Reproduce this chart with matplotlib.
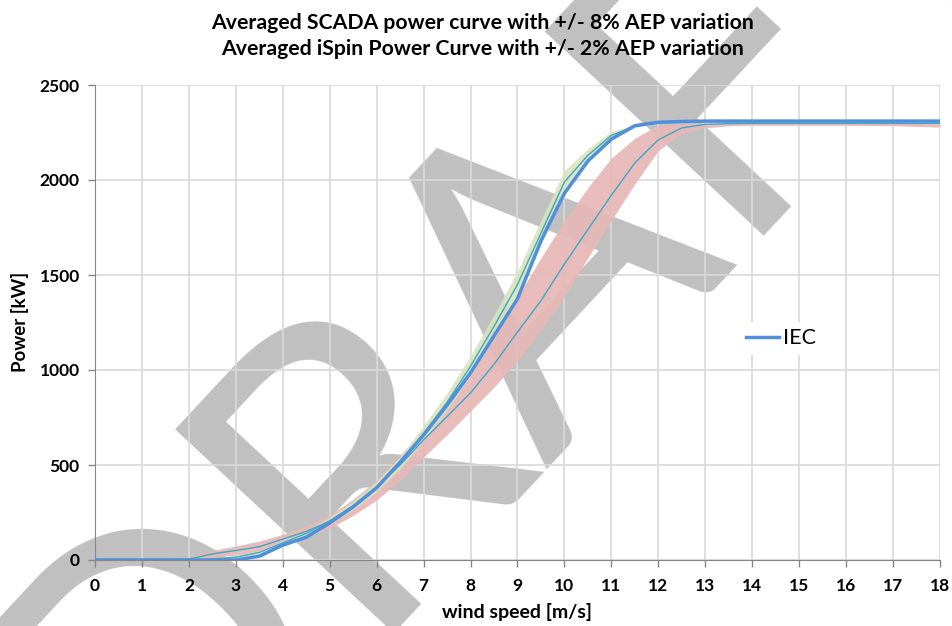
import matplotlib.pyplot as plt

plt.rcParams['font.family'] = ['Lato', 'DejaVu Sans']

wind = [0, 0.5, 1, 1.5, 2, 2.5, 3, 3.5, 4, 4.5, 5, 5.5, 6, 6.5, 7, 7.5, 8, 8.5, 9,
        9.5, 10, 10.5, 11, 11.5, 12, 12.5, 13, 13.5, 14, 15, 16, 17, 18]

# SCADA averaged curve and its +/- 8% AEP band
scada_avg = [0, 0, 0, 0, 5, 32, 50, 70, 110, 150, 205, 285, 384, 500, 632, 755, 880, 1030, 1200,
             1365, 1558, 1740, 1920, 2090, 2212, 2274, 2293, 2297, 2298, 2298, 2298, 2298, 2298]
scada_hi = [0, 0, 0, 0, 15, 50, 74, 100, 135, 180, 237, 320, 421, 550, 690, 840, 1000, 1190, 1385,
            1590, 1786, 1960, 2115, 2220, 2289, 2295, 2298, 2300, 2300, 2300, 2300, 2300, 2296]
scada_lo = [0, 0, 0, 0, 0, 15, 26, 45, 80, 120, 168, 235, 316, 420, 542, 660, 785, 910, 1048,
            1210, 1389, 1590, 1788, 1980, 2155, 2246, 2275, 2285, 2288, 2288, 2288, 2286, 2278]

# iSpin averaged curve and its +/- 2% AEP band
ispin_avg = [0, 0, 0, 0, 0, 5, 15, 40, 90, 140, 205, 285, 385, 510, 665, 830, 1020, 1230, 1450,
             1720, 1990, 2130, 2235, 2283, 2300, 2306, 2308, 2308, 2308, 2308, 2308, 2308, 2308]
ispin_hi = [0, 0, 0, 0, 0, 10, 25, 50, 100, 155, 225, 310, 415, 545, 705, 880, 1075, 1290, 1520,
            1790, 2050, 2165, 2256, 2290, 2302, 2308, 2310, 2310, 2310, 2310, 2310, 2310, 2310]
ispin_lo = [0, 0, 0, 0, 0, 0, 5, 30, 80, 125, 190, 265, 360, 480, 630, 790, 970, 1170, 1390,
            1660, 1930, 2100, 2215, 2276, 2298, 2304, 2306, 2306, 2306, 2306, 2306, 2306, 2306]

iec = [0, 0, 0, 0, 0, 0, 0, 20, 78, 120, 195, 280, 380, 515, 658, 815, 985, 1180, 1375,
       1680, 1930, 2100, 2215, 2286, 2304, 2308, 2310, 2310, 2310, 2310, 2310, 2310, 2310]

fig = plt.figure(figsize=(9.53, 6.26), dpi=100)
ax = fig.add_axes([95 / 953, 66 / 626, 845 / 953, 475 / 626])
ax.set_facecolor('none')

# DRAFT watermark behind the chart
fig.text(512 / 953, 1 - 293 / 626, 'DRAFT', rotation=47, ha='center', va='center',
         fontsize=300, color='#C0C0C0', zorder=-5, rotation_mode='anchor')

ax.fill_between(wind, scada_lo, scada_hi, color='#E6B9B8', lw=0, alpha=0.95, zorder=2)
ax.fill_between(wind, ispin_lo, ispin_hi, color='#D7E4BD', lw=0, alpha=0.9, zorder=2)
ax.plot(wind, scada_avg, color='#3FA7C4', lw=1.0, zorder=3)
ax.plot(wind, ispin_avg, color='#3FA7C4', lw=1.0, zorder=3)
ax.plot(wind, iec, color='#4F8FDB', lw=2.5, label='IEC', zorder=4)

ax.set_xlim(0, 18)
ax.set_ylim(0, 2500)
ax.set_xticks(range(0, 19))
ax.set_yticks(range(0, 2501, 500))
ax.grid(True, color='#D9D9D9', lw=1.2)
ax.set_axisbelow(True)
for s in ['top', 'right']:
    ax.spines[s].set_visible(False)
for s in ['left', 'bottom']:
    ax.spines[s].set_color('#868686')
ax.tick_params(colors='#868686', length=5, width=1, labelcolor='black', labelsize=12.5)
for lab in ax.get_xticklabels() + ax.get_yticklabels():
    lab.set_fontweight('bold')
ax.tick_params(axis='y', pad=6)
ax.tick_params(axis='x', pad=8)

leg = ax.legend(loc='center', bbox_to_anchor=(0.812, 0.467), fontsize=15.5, frameon=True,
                handlelength=1.5, handletextpad=0.2, borderpad=0.3)
leg.get_frame().set_facecolor('white')
leg.get_frame().set_edgecolor('none')
leg.get_frame().set_alpha(1)

fig.text(483 / 953, 1 - 36 / 626,
         'Averaged SCADA power curve with +/- 8% AEP variation\n'
         'Averaged iSpin Power Curve with +/- 2% AEP variation',
         ha='center', va='center', fontsize=15.3, fontweight='bold', linespacing=1.4)
fig.text(517 / 953, 1 - 612 / 626, 'wind speed [m/s]', ha='center', va='center',
         fontsize=14, fontweight='bold')
fig.text(20 / 953, 1 - 322 / 626, 'Power [kW]', ha='center', va='center', rotation=90,
         fontsize=13.5, fontweight='bold')

fig.savefig('out.png', dpi=100)
